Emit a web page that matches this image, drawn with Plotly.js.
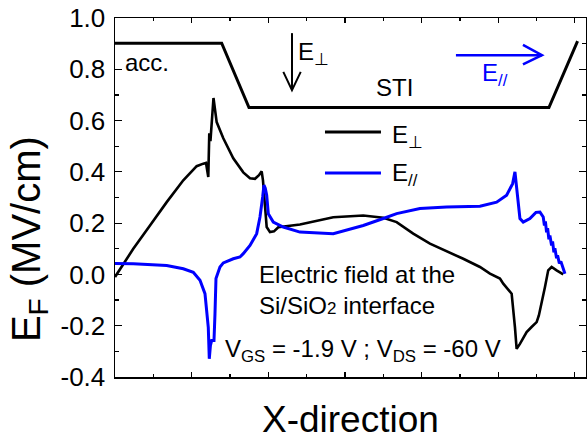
<!DOCTYPE html>
<html>
<head>
<meta charset="utf-8">
<script src="https://cdn.plot.ly/plotly-3.0.1.min.js"></script>
<style>html,body{margin:0;padding:0;background:#fff;}#chart{width:587px;height:439px;}</style>
</head>
<body>
<div id="chart"></div>
<script>
// E_perp (black) along the X-direction
const perpX = [0, 0.477, 0.913, 1.349, 1.782, 2.131, 2.304, 2.374, 2.434, 2.46, 2.49, 2.57, 2.653, 2.826, 3.086, 3.347, 3.522, 3.652, 3.757, 3.827, 3.861, 3.958, 4.044, 4.148, 4.261, 4.826, 5.695, 6.478, 7.0, 7.349, 7.782, 8.218, 9.087, 9.523, 9.784, 10.045, 10.131, 10.35, 10.436, 10.48, 10.566, 10.741, 10.87, 11.002, 11.06, 11.133, 11.218, 11.304, 11.393, 11.523, 11.696];
const perpY = [-0.01, 0.1, 0.191, 0.282, 0.367, 0.422, 0.432, 0.435, 0.38, 0.55, 0.52, 0.688, 0.594, 0.531, 0.453, 0.398, 0.375, 0.373, 0.387, 0.402, 0.367, 0.185, 0.165, 0.168, 0.184, 0.195, 0.223, 0.23, 0.221, 0.204, 0.159, 0.12, 0.061, 0.029, 0.003, -0.016, -0.036, -0.075, -0.206, -0.29, -0.271, -0.225, -0.205, -0.186, -0.16, -0.114, -0.05, 0.016, 0.029, 0.016, 0.0];

// E_parallel (blue)
const parX = [0, 0.477, 1.349, 1.782, 2.043, 2.218, 2.348, 2.434, 2.46, 2.49, 2.522, 2.583, 2.609, 2.635, 2.739, 2.826, 3.086, 3.261, 3.347, 3.522, 3.697, 3.783, 3.853, 3.887, 3.921, 3.958, 4.0, 4.13, 4.391, 4.826, 5.695, 6.045, 6.478, 7.0, 7.349, 7.957, 8.654, 9.523, 9.958, 10.219, 10.376, 10.436, 10.48, 10.566, 10.652, 10.827, 10.983, 11.088, 11.174, 11.205, 11.231, 11.261, 11.288, 11.322, 11.348, 11.392, 11.418, 11.452, 11.478, 11.522, 11.548, 11.595, 11.634, 11.696, 11.741];
const parY = [0.043, 0.042, 0.035, 0.022, 0.008, -0.023, -0.075, -0.206, -0.329, -0.277, -0.258, -0.258, -0.153, -0.016, 0.029, 0.045, 0.061, 0.068, 0.081, 0.113, 0.159, 0.224, 0.302, 0.348, 0.336, 0.309, 0.237, 0.204, 0.185, 0.165, 0.159, 0.172, 0.191, 0.218, 0.237, 0.257, 0.263, 0.266, 0.282, 0.309, 0.354, 0.4, 0.328, 0.218, 0.204, 0.218, 0.242, 0.243, 0.224, 0.191, 0.207, 0.164, 0.18, 0.137, 0.152, 0.113, 0.129, 0.086, 0.102, 0.063, 0.074, 0.043, 0.051, 0.02, 0.003];

// Device schematic outline (acc. region / STI)
const outlineX = [0, 2.784, 3.496, 11.323, 12.07];
const outlineY = [0.902, 0.902, 0.651, 0.651, 0.91];

// Y tick labels
const yTickVals = [-0.4, -0.2, 0.0, 0.2, 0.4, 0.6, 0.8, 1.0];
const yTickText = ["-0.4", "-0.2", "0.0", "0.2", "0.4", "0.6", "0.8", "1.0"];

const seriesNames = ["E<sub>⊥</sub>", "E<sub>//</sub>"];

const FONT = "Liberation Sans, Arial, Helvetica, sans-serif";

const traces = [
  {x: outlineX, y: outlineY, mode: 'lines', line: {color: 'black', width: 3}, showlegend: false, hoverinfo: 'skip'},
  {x: perpX, y: perpY, mode: 'lines', name: seriesNames[0], line: {color: 'black', width: 2.6}},
  {x: parX, y: parY, mode: 'lines', name: seriesNames[1], line: {color: '#0000ff', width: 3}}
];

const layout = {
  width: 587, height: 439,
  margin: {l: 115, r: 1, t: 18, b: 62, pad: 0},
  paper_bgcolor: 'white', plot_bgcolor: 'white',
  showlegend: false,
  font: {family: FONT, color: 'black', size: 24},
  xaxis: {
    range: [0, 12.29], showgrid: false, zeroline: false,
    showline: true, linecolor: 'black', linewidth: 1.5, mirror: 'ticks',
    ticks: 'inside', ticklen: 5, tickwidth: 1.2, tickcolor: 'black',
    tick0: 0, dtick: 2, showticklabels: false,
    minor: {tick0: 0, dtick: 1, ticks: 'inside', ticklen: 3, tickwidth: 1.2, tickcolor: 'black', showgrid: false},
    title: {text: ''}
  },
  yaxis: {
    range: [-0.4, 1.0], showgrid: false, zeroline: false,
    showline: true, linecolor: 'black', linewidth: 1.5, mirror: 'ticks',
    ticks: 'inside', ticklen: 7, tickwidth: 1.2, tickcolor: 'black',
    tickmode: 'array', tickvals: yTickVals, ticktext: yTickText,
    tickfont: {size: 26, family: FONT}, ticklabelstandoff: 3,
    minor: {tick0: 0, dtick: 0.1, ticks: 'inside', ticklen: 4, tickwidth: 1.2, tickcolor: 'black', showgrid: false},
    title: {text: ''}
  },
  shapes: [
    // E_perp arrow
    {type: 'line', xref: 'x', yref: 'y', x0: 4.618, y0: 0.941, x1: 4.618, y1: 0.719, line: {color: 'black', width: 2}},
    {type: 'path', xref: 'x', yref: 'y', path: 'M4.392,0.79 L4.618,0.719 L4.846,0.79', line: {color: 'black', width: 2}},
    // E_parallel arrow
    {type: 'line', xref: 'x', yref: 'y', x0: 8.896, y0: 0.855, x1: 11.14, y1: 0.855, line: {color: '#0000ff', width: 2.5}},
    {type: 'path', xref: 'x', yref: 'y', path: 'M10.645,0.895 L11.14,0.855 L10.645,0.819', line: {color: '#0000ff', width: 2.5}},
    // legend samples
    {type: 'line', xref: 'x', yref: 'y', x0: 5.479, y0: 0.555, x1: 6.94, y1: 0.555, line: {color: 'black', width: 3}},
    {type: 'line', xref: 'x', yref: 'y', x0: 5.479, y0: 0.396, x1: 6.94, y1: 0.396, line: {color: '#0000ff', width: 3}}
  ],
  annotations: [
    // axis titles
    {xref: 'paper', yref: 'paper', x: 0.5, y: -0.117, xanchor: 'center', yanchor: 'middle', text: 'X-direction', showarrow: false, font: {size: 37}},
    {xref: 'paper', yref: 'paper', x: -0.184, y: 0.385, xanchor: 'center', yanchor: 'middle', textangle: -90, text: 'E<sub>F</sub> (MV/cm)', showarrow: false, font: {size: 40}},
    {xref: 'x', yref: 'y', x: 0.209, y: 0.828, xanchor: 'left', yanchor: 'middle', text: 'acc.', showarrow: false, font: {size: 24}},
    {xref: 'x', yref: 'y', x: 7.305, y: 0.73, xanchor: 'center', yanchor: 'middle', text: 'STI', showarrow: false, font: {size: 24}},
    {xref: 'x', yref: 'y', x: 4.722, y: 0.863, xanchor: 'left', yanchor: 'middle', text: 'E<sub>⊥</sub>', showarrow: false, font: {size: 24}},
    {xref: 'x', yref: 'y', x: 9.523, y: 0.78, xanchor: 'left', yanchor: 'middle', text: 'E<sub>//</sub>', showarrow: false, font: {size: 24, color: '#0000ff'}},
    {xref: 'x', yref: 'y', x: 7.175, y: 0.539, xanchor: 'left', yanchor: 'middle', text: seriesNames[0], showarrow: false, font: {size: 24}},
    {xref: 'x', yref: 'y', x: 7.175, y: 0.39, xanchor: 'left', yanchor: 'middle', text: seriesNames[1], showarrow: false, font: {size: 24}},
    {xref: 'x', yref: 'y', x: 3.705, y: -0.0625, xanchor: 'left', yanchor: 'middle', align: 'left', text: 'Electric field at the<br>Si/SiO<span style="font-size:17px">2</span> interface', showarrow: false, font: {size: 24}},
    {xref: 'x', yref: 'y', x: 2.818, y: -0.295, xanchor: 'left', yanchor: 'middle', text: 'V<sub>GS</sub> = -1.9 V ; V<sub>DS</sub> = -60 V', showarrow: false, font: {size: 24}}
  ]
};

Plotly.newPlot('chart', traces, layout, {displayModeBar: false, staticPlot: true});
</script>
</body>
</html>
